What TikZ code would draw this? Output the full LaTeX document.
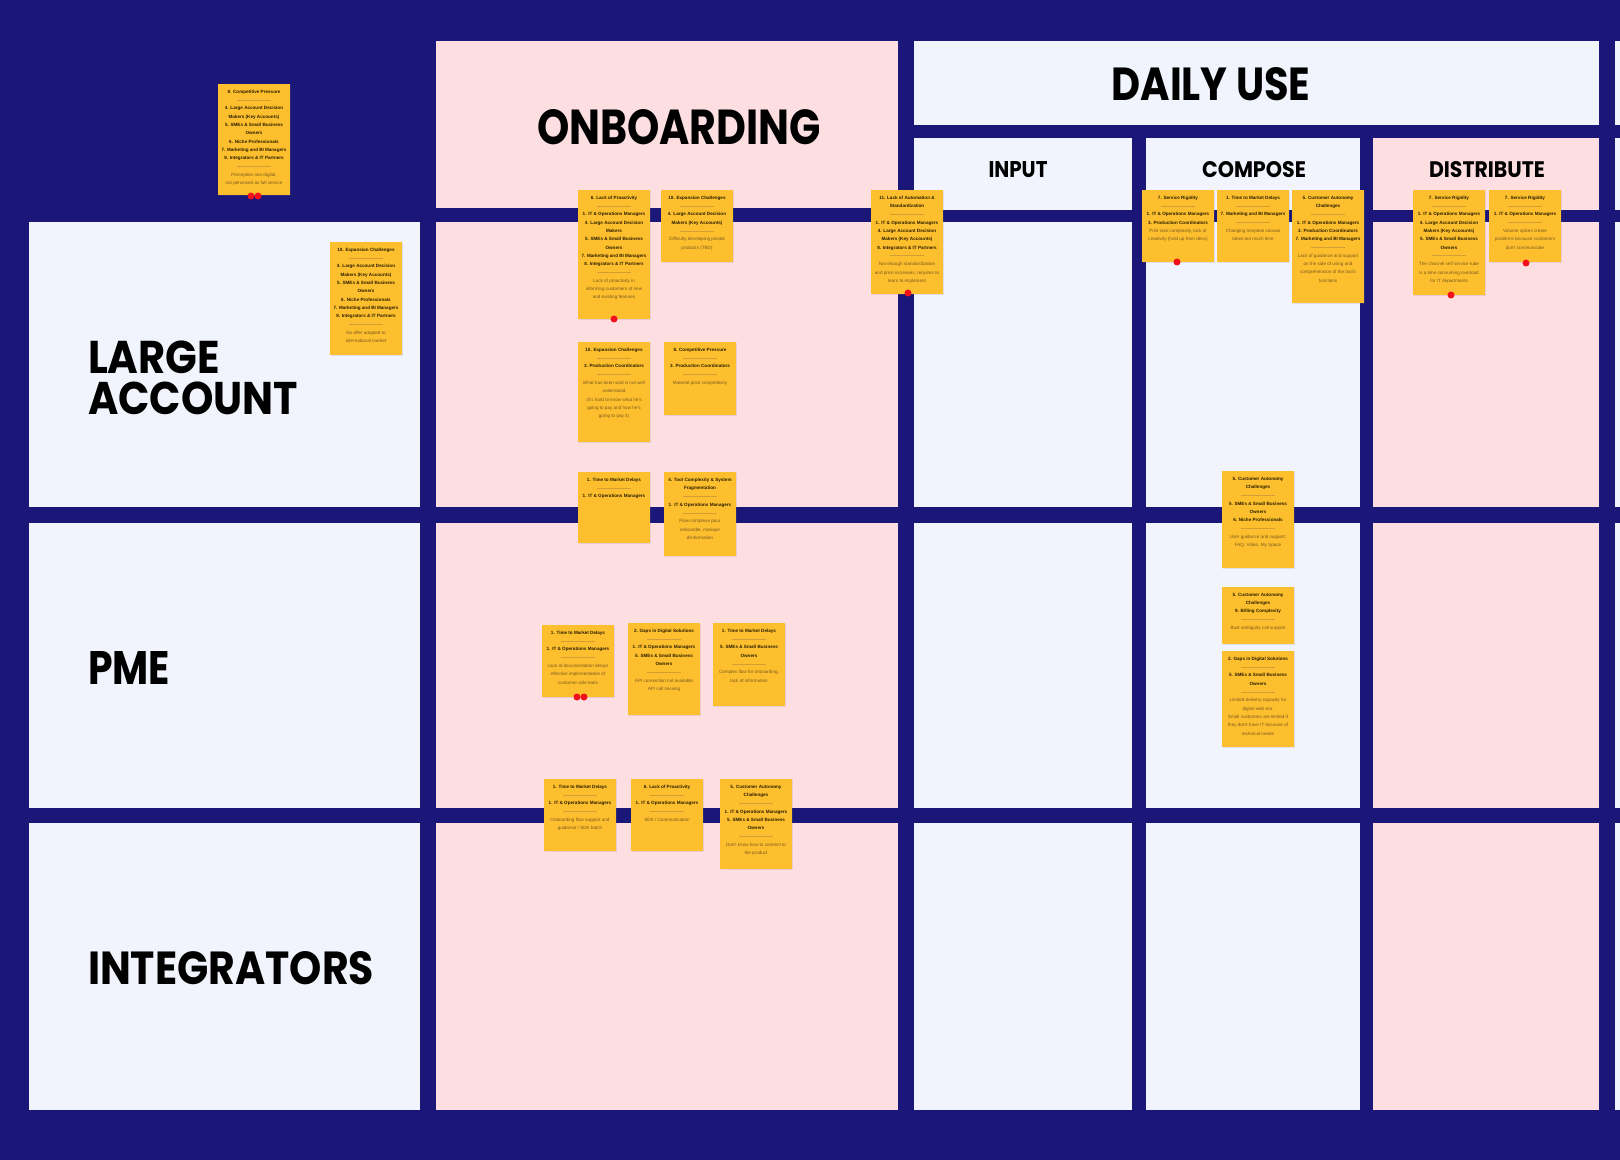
\documentclass[tikz,border=0pt]{standalone}
\usepackage{fontspec}
\usepackage{graphicx}
\usetikzlibrary{shadows}
\newfontfamily\headfont{Poppins}
\newfontfamily\stfont{Liberation Sans}
\definecolor{navy}{HTML}{1A1778}
\definecolor{pinkc}{HTML}{FEDFE1}
\definecolor{lightc}{HTML}{F1F4FC}
\definecolor{stickyc}{HTML}{FDBF2E}
\definecolor{stdark}{HTML}{2A1E00}
\definecolor{stgrey}{HTML}{7A5A20}
\definecolor{sepc}{HTML}{D49E34}
\definecolor{dotred}{HTML}{F2101A}
\newcommand\stsep{{\color{sepc}\rule[0.7pt]{17pt}{0.3pt}}}
\newcommand\stB[1]{{\bfseries #1}}
\newcommand\stT[1]{{\color{stgrey}#1}}
\newcommand\mksticky[5]{\node[stickybox] (#1) at (#2,#3) {\parbox[t][\dimexpr #4pt/2-6pt\relax][t]{32.5pt}{\centering #5}};}
\newcommand\mkcell[6]{\node[cellbox, fill=#6, minimum width={(#4-#2)*0.5pt}, minimum height={(#5-#3)*0.5pt}] (#1) at (#2,#3) {};}
\tikzset{
  cellbox/.style={anchor=north west, inner sep=0pt, outer sep=0pt, draw=none},
  stickybox/.style={anchor=north west, fill=stickyc, inner xsep=1.75pt, inner ysep=3pt, outer sep=0pt,
    minimum width=36pt, text=stdark, drop shadow={opacity=0.18, shadow xshift=0.4pt, shadow yshift=-0.6pt},
    font=\stfont\fontsize{2.3}{4.15}\selectfont},
  head/.style={inner sep=0pt, outer sep=0pt, text=black, font=\headfont\bfseries},
  reddot/.style={circle, fill=dotred, inner sep=0pt, minimum size=3.5pt}
}
\begin{document}
\begin{tikzpicture}[x=0.5pt,y=-0.5pt]
\path[use as bounding box, fill=navy] (0,0) rectangle (1620,1160);
% row label cells
\mkcell{lab1}{29}{222}{420}{507}{lightc}
\mkcell{lab2}{29}{523}{420}{808}{lightc}
\mkcell{lab3}{29}{823}{420}{1110}{lightc}
% onboarding column
\mkcell{onbh}{436}{41}{898}{208}{pinkc}
\mkcell{onb1}{436}{222}{898}{507}{pinkc}
\mkcell{onb2}{436}{523}{898}{808}{pinkc}
\mkcell{onb3}{436}{823}{898}{1110}{pinkc}
% daily use
\mkcell{dayh}{914}{41}{1599}{125}{lightc}
\mkcell{inph}{914}{138}{1132}{210}{lightc}
\mkcell{inp1}{914}{222}{1132}{507}{lightc}
\mkcell{inp2}{914}{523}{1132}{808}{lightc}
\mkcell{inp3}{914}{823}{1132}{1110}{lightc}
\mkcell{comh}{1146}{138}{1360}{210}{lightc}
\mkcell{com1}{1146}{222}{1360}{507}{lightc}
\mkcell{com2}{1146}{523}{1360}{808}{lightc}
\mkcell{com3}{1146}{823}{1360}{1110}{lightc}
\mkcell{dish}{1373}{138}{1599}{210}{pinkc}
\mkcell{dis1}{1373}{222}{1599}{507}{pinkc}
\mkcell{dis2}{1373}{523}{1599}{808}{pinkc}
\mkcell{dis3}{1373}{823}{1599}{1110}{pinkc}
% partial column at right edge
\mkcell{rgh}{1615}{41}{1620}{125}{lightc}
\mkcell{rgs}{1615}{138}{1620}{210}{lightc}
\mkcell{rg1}{1615}{222}{1620}{507}{lightc}
\mkcell{rg2}{1615}{523}{1620}{808}{lightc}
\mkcell{rg3}{1615}{823}{1620}{1110}{lightc}
% headings
\node[head] (tonb) at (679,127) {\resizebox{142pt}{17.5pt}{ONBOARDING}};
\node[head] (tday) at (1211,84) {\resizebox{99.5pt}{16.5pt}{DAILY USE}};
\node[head] (tinp) at (1018,170) {\resizebox{29.5pt}{8pt}{INPUT}};
\node[head] (tcom) at (1254,170) {\resizebox{52pt}{8pt}{COMPOSE}};
\node[head] (tdis) at (1487,170) {\resizebox{58pt}{8pt}{DISTRIBUTE}};
\node[head, anchor=north west, align=left, font=\headfont\bfseries\fontsize{16}{20.2}\selectfont] (tlarge) at (88,341)
  {\resizebox{66pt}{16.3pt}{LARGE}\\\resizebox{105pt}{16.3pt}{ACCOUNT}};
\node[head, anchor=north west] (tpme) at (88,651) {\resizebox{41pt}{16.5pt}{PME}};
\node[head, anchor=north west] (tint) at (88,951) {\resizebox{143pt}{16.5pt}{INTEGRATORS}};
% sticky notes
\mksticky{s1}{218}{84}{111}{\stB{8. Competitive Pressure}\\\stsep\\\stB{4. Large Account Decision\\Makers (Key Accounts)\\5. SMEs \& Small Business\\Owners\\6. Niche Professionals\\7. Marketing and BI Managers\\8. Integrators \& IT Partners}\\\stsep\\\stT{Perception non digital,\\not perceived as full service}}
\mksticky{s2}{330}{242}{113}{\stB{10. Expansion Challenges}\\\stsep\\\stB{4. Large Account Decision\\Makers (Key Accounts)\\5. SMEs \& Small Business\\Owners\\6. Niche Professionals\\7. Marketing and BI Managers\\8. Integrators \& IT Partners}\\\stsep\\\stT{No offer adapted to\\international market}}
\mksticky{s3}{578}{190}{129}{\stB{6. Lack of Proactivity}\\\stsep\\\stB{1. IT \& Operations Managers\\4. Large Account Decision\\Makers\\5. SMEs \& Small Business\\Owners\\7. Marketing and BI Managers\\8. Integrators \& IT Partners}\\\stsep\\\stT{Lack of proactivity in\\informing customers of new\\and existing features}}
\mksticky{s4}{661}{190}{72}{\stB{10. Expansion Challenges}\\\stsep\\\stB{4. Large Account Decision\\Makers (Key Accounts)}\\\stsep\\\stT{Difficulty developing pivotal\\products (TBD)}}
\mksticky{s5}{578}{342}{100}{\stB{10. Expansion Challenges}\\\stsep\\\stB{3. Production Coordinators}\\\stsep\\\stT{What has been sold is not well\\understood\\(It's hard to know what he's\\going to pay and how he's\\going to pay it)}}
\mksticky{s6}{664}{342}{73}{\stB{8. Competitive Pressure}\\\stsep\\\stB{3. Production Coordinators}\\\stsep\\\stT{Material price competitivity}}
\mksticky{s7}{871}{190}{104}{\stB{11. Lack of Automation \&\\Standardization}\\\stsep\\\stB{1. IT \& Operations Managers\\4. Large Account Decision\\Makers (Key Accounts)\\8. Integrators \& IT Partners}\\\stsep\\\stT{Not enough standardization\\and price increases, requires to\\learn to implement}}
\mksticky{s8}{1142}{190}{72}{\stB{7. Service Rigidity}\\\stsep\\\stB{1. IT \& Operations Managers\\3. Production Coordinators}\\\stT{Print size complexity, lack of\\creativity (hold up from devs)}}
\mksticky{s9}{1217}{190}{72}{\stB{1. Time to Market Delays}\\\stsep\\\stB{7. Marketing and BI Managers}\\\stsep\\\stT{Changing template canvas\\takes too much time}}
\mksticky{s10}{1292}{190}{113}{\stB{5. Customer Autonomy\\Challenges}\\\stsep\\\stB{1. IT \& Operations Managers\\3. Production Coordinators\\7. Marketing and BI Managers}\\\stsep\\\stT{Lack of guidance and support\\on the side of using and\\comprehension of the tool's\\functions}}
\mksticky{s11}{1413}{190}{105}{\stB{7. Service Rigidity}\\\stsep\\\stB{1. IT \& Operations Managers\\4. Large Account Decision\\Makers (Key Accounts)\\5. SMEs \& Small Business\\Owners}\\\stsep\\\stT{The channel self service tube\\is a time consuming overload\\for IT departments}}
\mksticky{s12}{1489}{190}{72}{\stB{7. Service Rigidity}\\\stsep\\\stB{1. IT \& Operations Managers}\\\stsep\\\stT{Volume spikes create\\problems because customers\\don't communicate}}
\mksticky{s13}{578}{472}{71}{\stB{1. Time to Market Delays}\\\stsep\\\stB{1. IT \& Operations Managers}}
\mksticky{s14}{664}{472}{84}{\stB{4. Tool Complexity \& System\\Fragmentation}\\\stsep\\\stB{1. IT \& Operations Managers}\\\stsep\\\stT{Flow complexe pour\\onboarder, manque\\d'information}}
\mksticky{s15}{542}{625}{72}{\stB{1. Time to Market Delays}\\\stsep\\\stB{1. IT \& Operations Managers}\\\stsep\\\stT{Lack of documentation delays\\effective implementation of\\customer side tools}}
\mksticky{s16}{628}{623}{92}{\stB{2. Gaps in Digital Solutions}\\\stsep\\\stB{1. IT \& Operations Managers\\5. SMEs \& Small Business\\Owners}\\\stsep\\\stT{API connection not available\\API call missing}}
\mksticky{s17}{713}{623}{83}{\stB{1. Time to Market Delays}\\\stsep\\\stB{5. SMEs \& Small Business\\Owners}\\\stsep\\\stT{Complex flow for onboarding,\\lack of information}}
\mksticky{s18}{544}{779}{72}{\stB{1. Time to Market Delays}\\\stsep\\\stB{1. IT \& Operations Managers}\\\stsep\\\stT{Onboarding flow support and\\guidance / SDK batch}}
\mksticky{s19}{631}{779}{72}{\stB{6. Lack of Proactivity}\\\stsep\\\stB{1. IT \& Operations Managers}\\\stsep\\\stT{SDK / Communication}}
\mksticky{s20}{720}{779}{90}{\stB{5. Customer Autonomy\\Challenges}\\\stsep\\\stB{1. IT \& Operations Managers\\5. SMEs \& Small Business\\Owners}\\\stsep\\\stT{Don't know how to connect to\\the product}}
\mksticky{s21}{1222}{471}{97}{\stB{5. Customer Autonomy\\Challenges}\\\stsep\\\stB{5. SMEs \& Small Business\\Owners\\6. Niche Professionals}\\\stsep\\\stT{User guidance and support:\\FAQ, Video, My Space}}
\mksticky{s22}{1222}{587}{57}{\stB{5. Customer Autonomy\\Challenges\\9. Billing Complexity}\\\stsep\\\stT{Bust ambiguity call support}}
\mksticky{s23}{1222}{651}{96}{\stB{2. Gaps in Digital Solutions}\\\stsep\\\stB{5. SMEs \& Small Business\\Owners}\\\stsep\\\stT{Limited delivery capacity for\\digital web era.\\Small customers are limited if\\they don't have IT because of\\technical needs}}
% red vote dots
\node[reddot] (d1a) at (251,196) {};
\node[reddot] (d1b) at (258,196) {};
\node[reddot] (d3) at (614,319) {};
\node[reddot] (d7) at (908,293) {};
\node[reddot] (d8) at (1177,262) {};
\node[reddot] (d11) at (1451,295) {};
\node[reddot] (d12) at (1526,263) {};
\node[reddot] (d15a) at (577,697) {};
\node[reddot] (d15b) at (584,697) {};
\end{tikzpicture}
\end{document}
